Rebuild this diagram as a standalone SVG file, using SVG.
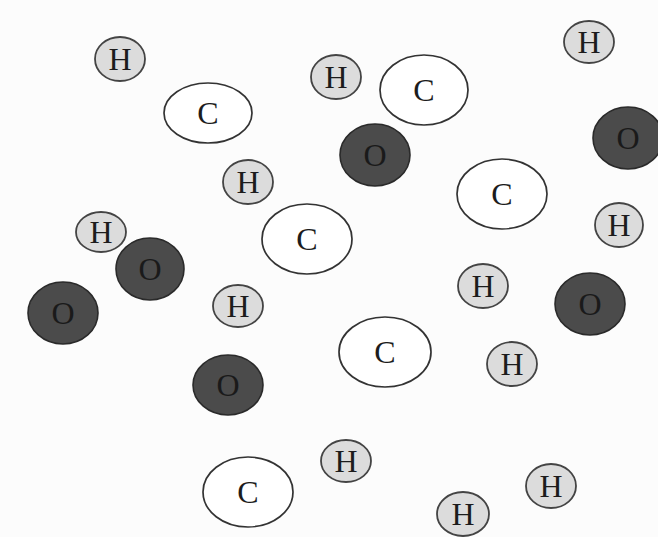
<svg xmlns="http://www.w3.org/2000/svg" width="658" height="537" viewBox="0 0 658 537">
<style>
.h ellipse{fill:#dcdcdc;stroke:#444;stroke-width:1.8}
.c ellipse{fill:#ffffff;stroke:#333;stroke-width:1.7}
.o ellipse{fill:#4b4b4b;stroke:#2a2a2a;stroke-width:1.6}
text{font-family:"Liberation Serif","Times New Roman",serif;font-size:32px;text-anchor:middle;fill:#1c1c1c}
.o text{fill:#1a1a1a}
</style>
<rect width="658" height="537" fill="#fcfcfc"/>
<g id="connectors"/>
<g id="h1" class="h"><ellipse cx="120" cy="59" rx="25" ry="22"/><text x="120" y="70">H</text></g>
<g id="c1" class="c"><ellipse cx="208" cy="113" rx="44" ry="30"/><text x="208" y="124">C</text></g>
<g id="h2" class="h"><ellipse cx="336" cy="77" rx="25" ry="22"/><text x="336" y="88">H</text></g>
<g id="c2" class="c"><ellipse cx="424" cy="90" rx="44" ry="35"/><text x="424" y="101">C</text></g>
<g id="h3" class="h"><ellipse cx="589" cy="42" rx="25" ry="21"/><text x="589" y="53">H</text></g>
<g id="o1" class="o"><ellipse cx="375" cy="155" rx="35" ry="31"/><text x="375" y="166">O</text></g>
<g id="o2" class="o"><ellipse cx="628" cy="138" rx="35" ry="31"/><text x="628" y="149">O</text></g>
<g id="h4" class="h"><ellipse cx="248" cy="182" rx="25" ry="22"/><text x="248" y="193">H</text></g>
<g id="c3" class="c"><ellipse cx="502" cy="194" rx="45" ry="35"/><text x="502" y="205">C</text></g>
<g id="h5" class="h"><ellipse cx="619" cy="225" rx="24" ry="22"/><text x="619" y="236">H</text></g>
<g id="h6" class="h"><ellipse cx="101" cy="232" rx="25" ry="20"/><text x="101" y="243">H</text></g>
<g id="c4" class="c"><ellipse cx="307" cy="239" rx="45" ry="35"/><text x="307" y="250">C</text></g>
<g id="o3" class="o"><ellipse cx="150" cy="269" rx="34" ry="31"/><text x="150" y="280">O</text></g>
<g id="o4" class="o"><ellipse cx="63" cy="313" rx="35" ry="31"/><text x="63" y="324">O</text></g>
<g id="h7" class="h"><ellipse cx="238" cy="306" rx="25" ry="21"/><text x="238" y="317">H</text></g>
<g id="h8" class="h"><ellipse cx="483" cy="286" rx="25" ry="22"/><text x="483" y="297">H</text></g>
<g id="o5" class="o"><ellipse cx="590" cy="304" rx="35" ry="31"/><text x="590" y="315">O</text></g>
<g id="c5" class="c"><ellipse cx="385" cy="352" rx="46" ry="35"/><text x="385" y="363">C</text></g>
<g id="h9" class="h"><ellipse cx="512" cy="364" rx="25" ry="22"/><text x="512" y="375">H</text></g>
<g id="o6" class="o"><ellipse cx="228" cy="385" rx="35" ry="30"/><text x="228" y="396">O</text></g>
<g id="c6" class="c"><ellipse cx="248" cy="492" rx="45" ry="35"/><text x="248" y="503">C</text></g>
<g id="h10" class="h"><ellipse cx="346" cy="461" rx="25" ry="21"/><text x="346" y="472">H</text></g>
<g id="h11" class="h"><ellipse cx="551" cy="486" rx="25" ry="22"/><text x="551" y="497">H</text></g>
<g id="h12" class="h"><ellipse cx="463" cy="514" rx="26" ry="22"/><text x="463" y="525">H</text></g>
</svg>
